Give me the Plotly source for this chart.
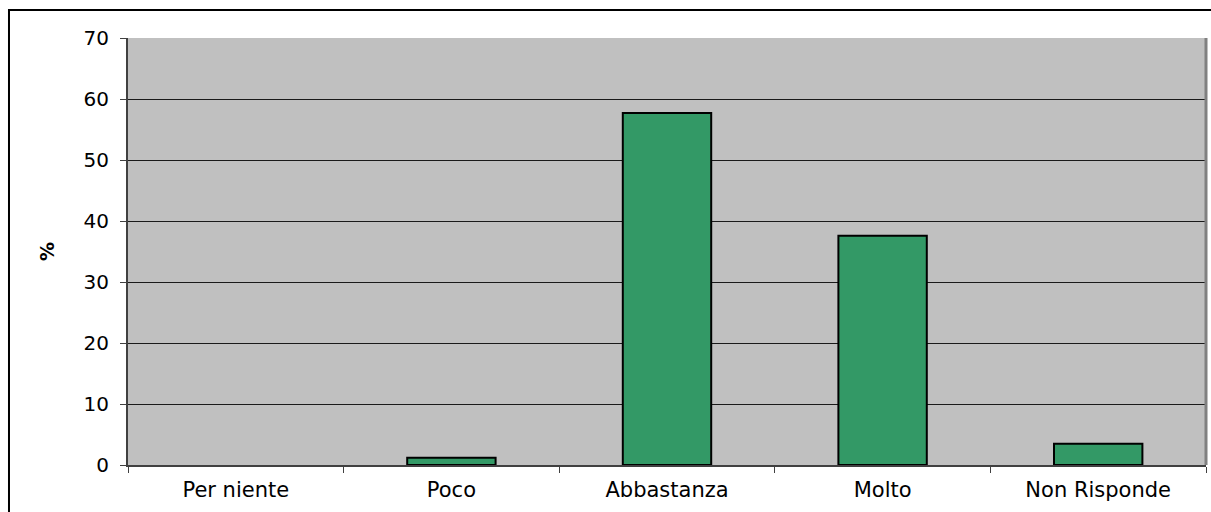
import plotly.graph_objects as go

# Survey answers (percent of respondents)
categories = ["Per niente", "Poco", "Abbastanza", "Molto", "Non Risponde"]
percentages = [0.0, 1.2, 57.7, 37.6, 3.5]
y_ticks = [0, 10, 20, 30, 40, 50, 60, 70]

FONT = "DejaVu Sans, Arial, sans-serif"

# empty categories get no outlined sliver
outline_widths = [0 if v == 0 else 2 for v in percentages]

fig = go.Figure(
    go.Bar(
        x=categories,
        y=percentages,
        width=0.41,
        marker=dict(color="#339966", line=dict(color="#000000", width=outline_widths)),
        hoverinfo="x+y",
    )
)

fig.update_layout(
    width=1211,
    height=512,
    margin=dict(l=128, r=5, t=38, b=47),
    paper_bgcolor="#FFFFFF",
    plot_bgcolor="#C0C0C0",
    showlegend=False,
    font=dict(family=FONT, size=20, color="#000000"),
    xaxis=dict(
        type="category",
        tickson="boundaries",
        ticks="outside",
        ticklen=6,
        tickcolor="#404040",
        showline=True,
        linecolor="#404040",
        linewidth=2,
        showgrid=False,
        ticklabelstandoff=5,
        tickfont=dict(family=FONT, size=21, color="#000000"),
    ),
    yaxis=dict(
        range=[0, 70],
        tickvals=y_ticks,
        ticks="outside",
        ticklen=6,
        tickcolor="#404040",
        showline=True,
        linecolor="#404040",
        linewidth=2,
        showgrid=True,
        gridcolor="#1a1a1a",
        gridwidth=1,
        zeroline=False,
        ticklabelstandoff=7,
        tickfont=dict(family=FONT, size=20, color="#000000"),
    ),
    annotations=[
        dict(
            text="<b>%</b>",
            xref="paper",
            yref="paper",
            x=-0.0755,
            y=0.5,
            xanchor="center",
            yanchor="middle",
            showarrow=False,
            textangle=-90,
            font=dict(family=FONT, size=19, color="#000000"),
        )
    ],
    shapes=[
        # outer chart frame
        dict(
            type="rect",
            xref="paper",
            yref="paper",
            x0=-0.1104,
            x1=1.05,
            y0=-0.2,
            y1=1.0656,
            line=dict(color="#000000", width=2),
            fillcolor="rgba(0,0,0,0)",
            layer="above",
        ),
        # right edge of plot area
        dict(
            type="line",
            xref="paper",
            yref="paper",
            x0=1.0,
            x1=1.0,
            y0=0,
            y1=1,
            line=dict(color="#808080", width=3),
        ),
    ],
)

fig.write_html("out.html")
